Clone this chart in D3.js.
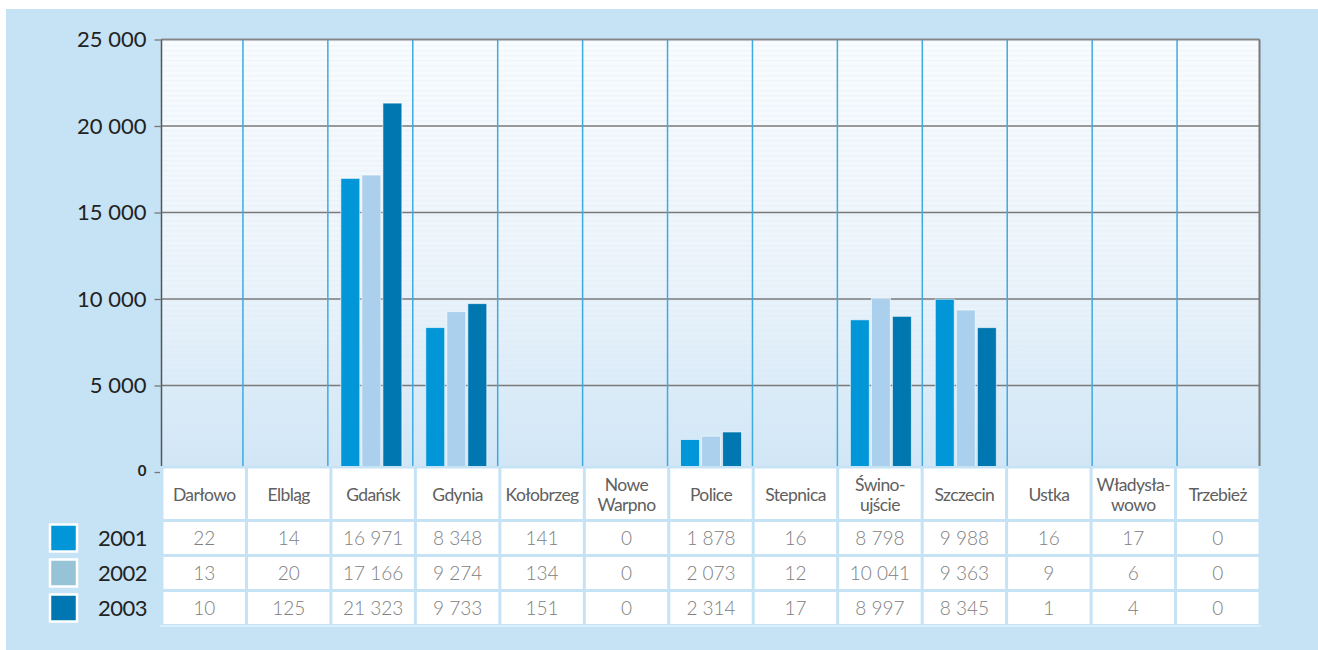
<!DOCTYPE html>
<html>
  <head>
    <meta charset="utf-8">
    <title>Porty - przeładunki 2001-2003</title>
    <script type="text/javascript" src="https://d3js.org/d3.v7.min.js"></script>
    <style>
      body { margin: 0; background: #fff; }
      text { font-family: Lato, "Open Sans", sans-serif; }
    </style>
  </head>

  <body>
    <script>

    var ports = ["Darłowo", "Elbląg", "Gdańsk", "Gdynia", "Kołobrzeg", "Nowe\nWarpno", "Police",
                 "Stepnica", "Świno-\nujście", "Szczecin", "Ustka", "Władysła-\nwowo", "Trzebież"];
    var years = ["2001", "2002", "2003"];
    var v2001 = [22, 14, 16971, 8348, 141, 0, 1878, 16, 8798, 9988, 16, 17, 0];
    var v2002 = [13, 20, 17166, 9274, 134, 0, 2073, 12, 10041, 9363, 9, 6, 0];
    var v2003 = [10, 125, 21323, 9733, 151, 0, 2314, 17, 8997, 8345, 1, 4, 0];
    var yTicks = [0, 5000, 10000, 15000, 20000, 25000];

    var series = [v2001, v2002, v2003];
    var barColor = ["#0096d8", "#abd0ee", "#0077b0"];
    var legendColor = ["#0096d8", "#97c3d6", "#0077b0"];

    var width = 1318, height = 650;
    var fmt = d3.formatLocale({ decimal: ",", thousands: " ", grouping: [3], currency: ["", ""] }).format(",d");

    var svg = d3.select("body").append("svg")
                .attr("width", width)
                .attr("height", height);

    // page background
    svg.append("rect").attr("x", 6).attr("y", 9).attr("width", width - 6).attr("height", height - 9)
       .attr("fill", "#c6e2f5");

    var defs = svg.append("defs");
    var grad = defs.append("linearGradient").attr("id", "plotbg")
                   .attr("x1", 0).attr("y1", 0).attr("x2", 0).attr("y2", 1);
    grad.append("stop").attr("offset", "0%").attr("stop-color", "#f9fcfe");
    grad.append("stop").attr("offset", "55%").attr("stop-color", "#ecf4fb");
    grad.append("stop").attr("offset", "100%").attr("stop-color", "#d0e6f6");
    var pat = defs.append("pattern").attr("id", "stripes").attr("patternUnits", "userSpaceOnUse")
                  .attr("width", 8).attr("height", 5);
    pat.append("rect").attr("y", 0).attr("width", 8).attr("height", 1.5).attr("fill", "#d6e7f5").attr("opacity", 0.25);

    var plotLeft = 161.5, plotRight = 1259.5, plotTop = 39.5, plotBottom = 467;

    var x = d3.scaleBand().domain(ports).range([158, 1262]);
    var xs = d3.scaleBand().domain(years).range([13, 74]).paddingInner(0.1);
    var y = d3.scaleLinear().domain([0, 25000]).range([472, 39.5]);

    svg.append("rect").attr("x", plotLeft).attr("y", plotTop)
       .attr("width", plotRight - plotLeft).attr("height", plotBottom - plotTop)
       .attr("fill", "url(#plotbg)");
    svg.append("rect").attr("x", plotLeft).attr("y", plotTop)
       .attr("width", plotRight - plotLeft).attr("height", plotBottom - plotTop)
       .attr("fill", "url(#stripes)");

    // horizontal grid
    svg.selectAll(".hgrid")
       .data(yTicks.filter(function(d) { return d > 0; }))
       .enter().append("line")
         .attr("x1", plotLeft).attr("x2", plotRight)
         .attr("y1", function(d) { return y(d); })
         .attr("y2", function(d) { return y(d); })
         .attr("stroke", "#7a7a7a").attr("stroke-width", 1.3);

    // category separators
    svg.selectAll(".vgrid")
       .data(ports.slice(1))
       .enter().append("line")
         .attr("x1", function(d) { return x(d); })
         .attr("x2", function(d) { return x(d); })
         .attr("y1", plotTop).attr("y2", plotBottom)
         .attr("stroke", "#3eaae2").attr("stroke-width", 1.5);

    // bars
    var groups = svg.selectAll(".port")
                    .data(ports)
                    .enter().append("g")
                      .attr("transform", function(d) { return "translate(" + x(d) + ",0)"; });

    groups.selectAll("rect")
          .data(function(d, i) { return series.map(function(s, k) { return { year: years[k], value: s[i], k: k }; }); })
          .enter().append("rect")
            .attr("x", function(d) { return xs(d.year); })
            .attr("width", xs.bandwidth())
            .attr("y", function(d) { return y(d.value); })
            .attr("height", function(d) { return y(0) - y(d.value); })
            .attr("fill", function(d) { return barColor[d.k]; })
            .attr("stroke", "#ffffff").attr("stroke-opacity", 0.6).attr("stroke-width", 1);

    // frame
    svg.append("line").attr("x1", plotLeft).attr("x2", plotRight).attr("y1", plotTop).attr("y2", plotTop)
       .attr("stroke", "#858585").attr("stroke-width", 1.3);
    svg.append("line").attr("x1", plotRight).attr("x2", plotRight).attr("y1", plotTop).attr("y2", plotBottom)
       .attr("stroke", "#7a7a7a").attr("stroke-width", 2);

    // y axis
    var axis = d3.axisLeft(y)
                 .tickValues(yTicks)
                 .tickSize(7)
                 .tickPadding(8)
                 .tickFormat(function(d) { return d === 0 ? "0" : fmt(d); });
    var ag = svg.append("g").attr("transform", "translate(" + plotLeft + ",0)").call(axis);
    ag.select(".domain").attr("stroke", "#555").attr("stroke-width", 1.5).attr("d", "M0," + plotTop + "V" + plotBottom);
    ag.selectAll(".tick line").attr("stroke", "#777").attr("stroke-width", 1.3);
    ag.selectAll(".tick text")
      .attr("fill", "#222")
      .attr("font-family", "Lato, sans-serif")
      .attr("font-size", function(d) { return d === 0 ? 15 : 22; })
      .attr("font-weight", function(d) { return d === 0 ? 700 : 400; })
      .attr("dy", function(d) { return d === 0 ? "0.2em" : "0.34em"; });

    // data table
    var tx = d3.scaleBand().domain(ports).range([162, 1260]);
    var rowTops = [467, 520.5, 555.5, 590.5];
    var rowHs = [53.5, 35, 35, 35];

    svg.append("rect").attr("x", 160).attr("y", 466).attr("width", 1101).attr("height", 161)
       .attr("fill", "#c6e2f5");
    svg.append("rect").attr("x", 160).attr("y", 625).attr("width", 1101).attr("height", 2)
       .attr("fill", "#dceefa");

    rowTops.forEach(function(top, r) {
      svg.selectAll(".cell" + r)
         .data(ports)
         .enter().append("rect")
           .attr("x", function(d) { return tx(d) + 1.5; })
           .attr("y", top + 1.5)
           .attr("width", tx.bandwidth() - 3)
           .attr("height", rowHs[r] - 3)
           .attr("fill", "#ffffff");
    });

    // header labels, one text per line
    var headLines = [];
    ports.forEach(function(p) {
      var lines = p.split("\n");
      lines.forEach(function(l, j) {
        headLines.push({ port: p, text: l, off: j - (lines.length - 1) / 2 });
      });
    });
    svg.selectAll(".head")
       .data(headLines)
       .enter().append("text")
         .attr("x", function(d) { return tx(d.port) + tx.bandwidth() / 2; })
         .attr("y", function(d) { return rowTops[0] + rowHs[0] / 2 + 1 + d.off * 20; })
         .attr("dy", "0.35em")
         .attr("text-anchor", "middle")
         .attr("font-size", 17.5)
         .attr("letter-spacing", "-0.6px")
         .attr("fill", "#606060")
         .text(function(d) { return d.text; });

    // values
    series.forEach(function(s, k) {
      svg.selectAll(".val" + k)
         .data(s)
         .enter().append("text")
           .attr("x", function(d, i) { return tx(ports[i]) + tx.bandwidth() / 2; })
           .attr("y", rowTops[k + 1] + rowHs[k + 1] / 2)
           .attr("dy", "0.36em")
           .attr("text-anchor", "middle")
           .attr("font-size", 19)
           .attr("font-weight", 300)
           .attr("fill", "#808080")
           .text(function(d) { return fmt(d); });
    });

    // legend
    var leg = svg.selectAll(".leg")
                 .data(years)
                 .enter().append("g")
                   .attr("transform", function(d, k) { return "translate(0," + (rowTops[k + 1] + rowHs[k + 1] / 2) + ")"; });
    leg.append("rect")
       .attr("x", 50).attr("y", -13.5).attr("width", 27).attr("height", 27)
       .attr("fill", function(d, k) { return legendColor[k]; })
       .attr("stroke", "#ffffff").attr("stroke-width", 2.5);
    leg.append("text")
       .attr("x", 147).attr("dy", "0.36em")
       .attr("text-anchor", "end")
       .attr("font-size", 22)
       .attr("letter-spacing", "-0.5px")
       .attr("fill", "#222")
       .text(function(d) { return d; });

  </script>
  </body>
</html>
